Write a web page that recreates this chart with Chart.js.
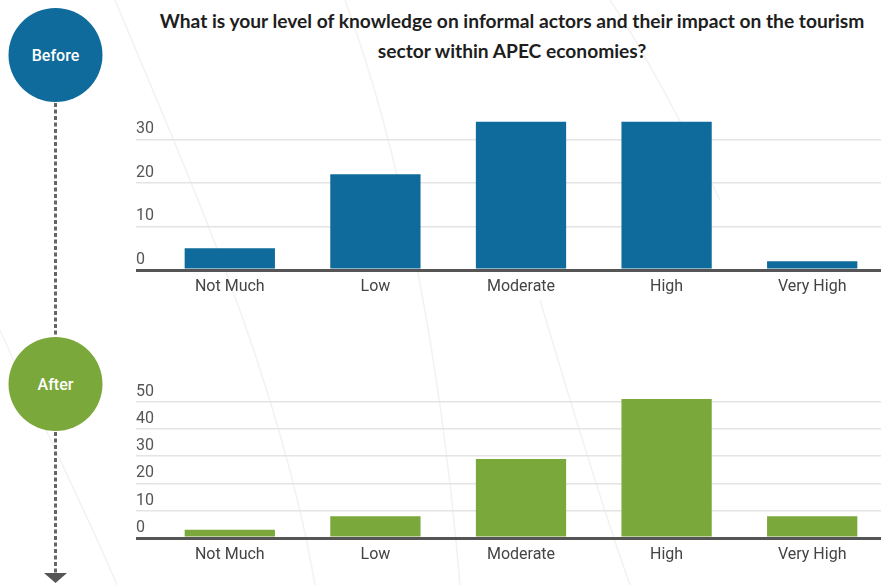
<!DOCTYPE html>
<html>
<head>
<meta charset="utf-8">
<script src="https://cdn.jsdelivr.net/npm/chart.js@4"></script>
<style>
  html, body { margin: 0; padding: 0; width: 881px; height: 585px; overflow: hidden; background: #fff; }
  #page { position: relative; width: 881px; height: 585px; overflow: hidden; }
  #deco { position: absolute; left: 0; top: 0; }
  .title {
    position: absolute; left: 112px; top: 6px; width: 800px;
    text-align: center; font-family: Lato, sans-serif; font-weight: 700;
    font-size: 19.2px; line-height: 30px; color: #1e1e1e;
  }
  canvas { position: absolute; left: 0; }
  #beforeChart { top: 100px; }
  #afterChart { top: 370px; }
</style>
</head>
<body>
<div id="page">
  <svg id="deco" width="881" height="585">
    <!-- faint background swooshes -->
    <g fill="none" stroke="#f2f2f2" stroke-width="1.5">
      <path d="M115,0 C190,180 280,380 315,585"/>
      <path d="M345,0 C400,150 440,350 460,585"/>
      <path d="M0,330 C40,420 90,520 117,585"/>
      <path d="M540,300 C570,400 600,500 630,585"/>
      <path d="M610,0 C650,60 690,140 720,200"/>
    </g>
    <!-- timeline -->
    <line x1="55.5" y1="103" x2="55.5" y2="337" stroke="#666" stroke-width="3" stroke-dasharray="4 2.5"/>
    <line x1="55.5" y1="432" x2="55.5" y2="574" stroke="#666" stroke-width="3" stroke-dasharray="4 2.5"/>
    <polygon points="44,573 67,573 55.5,583" fill="#555"/>
    <circle cx="55.5" cy="55" r="47" fill="#0e6b9b"/>
    <circle cx="55.5" cy="384" r="47" fill="#7ba83b"/>
    <text x="55.5" y="60.5" text-anchor="middle" font-family="Roboto" font-weight="500" font-size="16" fill="#fff">Before</text>
    <text x="55.5" y="389.5" text-anchor="middle" font-family="Roboto" font-weight="500" font-size="16" fill="#fff">After</text>
  </svg>
  <div class="title">What is your level of knowledge on informal actors and their impact on the tourism<br>sector within APEC economies?</div>
  <canvas id="beforeChart" width="900" height="200"></canvas>
  <canvas id="afterChart" width="900" height="198"></canvas>
</div>
<script>
const levels = ['Not Much', 'Low', 'Moderate', 'High', 'Very High'];
const beforeCounts = [5, 22, 34, 34, 2];
const afterCounts = [3, 8, 29, 51, 8];

const tickFont = { family: 'Roboto', size: 16 };

function makeBarChart(id, values, color, yMax, padTop) {
  const ctx = document.getElementById(id).getContext('2d');
  return new Chart(ctx, {
    type: 'bar',
    data: {
      labels: levels,
      datasets: [{
        data: values,
        backgroundColor: color,
        borderWidth: 0,
        categoryPercentage: 1,
        barPercentage: 0.62
      }]
    },
    options: {
      responsive: false,
      animation: false,
      layout: { padding: { left: 136, right: 15, top: padTop, bottom: 0 } },
      plugins: { legend: { display: false }, tooltip: { enabled: false } },
      scales: {
        x: {
          grid: { display: false, drawTicks: false },
          border: { display: false },
          ticks: { color: '#444', font: tickFont, padding: 7, maxRotation: 0 },
          afterFit: s => { s.height = 30; s.paddingLeft = 0; s.paddingRight = 0; }
        },
        y: {
          min: 0,
          max: yMax,
          border: { display: false },
          grid: {
            color: c => (c.tick && c.tick.value === 0) ? '#555' : '#e4e4e4',
            lineWidth: c => (c.tick && c.tick.value === 0) ? 3 : 1.5,
            drawTicks: true,
            tickLength: 21
          },
          ticks: {
            stepSize: 10,
            includeBounds: false,
            crossAlign: 'far',
            labelOffset: -10,
            padding: 0,
            color: '#555',
            font: tickFont
          },
          afterFit: s => { s.width = 21; s.paddingTop = 0; s.paddingBottom = 0; }
        }
      }
    }
  });
}

makeBarChart('beforeChart', beforeCounts, '#0e6b9b', 35, 17.5);
makeBarChart('afterChart', afterCounts, '#7ba83b', 55, 18);
</script>
</body>
</html>
